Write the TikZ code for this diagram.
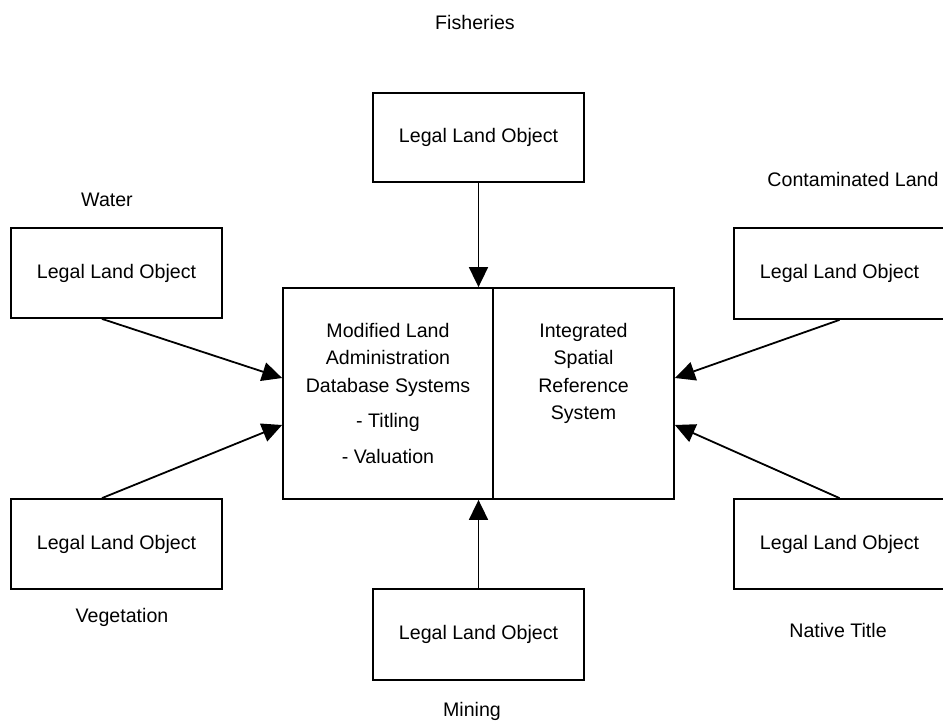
\documentclass[tikz,border=0pt]{standalone}
\usepackage{fontspec}
\setmainfont{Liberation Sans}
\usetikzlibrary{arrows.meta,calc}

\tikzset{
  lbltext/.style={font=\fontsize{19.6}{23.5}\selectfont, inner sep=0pt},
  objbox/.style={draw, line width=1.8pt, minimum width=211pt, minimum height=90pt,
                 inner sep=0pt, font=\fontsize{19.6}{23.5}\selectfont},
  corebox/.style={draw, line width=1.8pt, minimum height=211pt, inner sep=0pt},
  feed/.style={line width=1.8pt, -{Triangle[length=20pt,width=19pt]}},
  blocktext/.style={font=\fontsize{19.6}{27.6}\selectfont, align=center, inner sep=0pt, anchor=north}
}

\begin{document}
\begin{tikzpicture}[x=1pt,y=-1pt]
\useasboundingbox (0,0) rectangle (943,722);

% central database / reference system block
\node[corebox, minimum width=210pt] (mod) at (388,393.5) {};
\node[corebox, minimum width=181pt] (isr) at (583.5,393.5) {};
\node[blocktext] (modtext) at (388,322.7)
  {Modified Land\\Administration\\Database Systems\\[7.5pt]- Titling\\[8.5pt]- Valuation};
\node[blocktext] (isrtext) at (583.5,322.7)
  {Integrated\\Spatial\\Reference\\System};

% surrounding legal land objects
\node[objbox, minimum height=89pt] (top) at (478.5,137.5) {Legal Land Object};
\node[objbox] (lt)  at (116.5,273)   {Legal Land Object};
\node[objbox] (lb)  at (116.5,544)   {Legal Land Object};
\node[objbox, minimum height=91pt] (rt) at (839.5,273.5) {Legal Land Object};
\node[objbox] (rb)  at (839.5,544)   {Legal Land Object};
\node[objbox, minimum height=91pt] (bot) at (478.5,634.5) {Legal Land Object};

% category labels
\node[lbltext, anchor=base] (fish) at (475,30)  {Fisheries};
\node[lbltext, anchor=base] (water) at (107,207) {Water};
\node[lbltext, anchor=base] (cont) at (853,187) {Contaminated Land};
\node[lbltext, anchor=base] (veg) at (122,622) {Vegetation};
\node[lbltext, anchor=base] (nat) at (838,637) {Native Title};
\node[lbltext, anchor=base] (mine) at (472,716) {Mining};

% connectors into the central block
\draw[feed] (top.south) -- (top.south |- mod.north);
\draw[feed] (bot.north) -- (bot.north |- mod.south);
\draw[feed] ($(lt.south)+(-14.5,0)$) -- ($(mod.west)+(0,-15.5)$);
\draw[feed] ($(lb.north)+(-14.5,0)$) -- ($(mod.west)+(0,31.5)$);
\draw[feed] (rt.south) -- ($(isr.east)+(0,-15.5)$);
\draw[feed] (rb.north) -- ($(isr.east)+(0,31.5)$);
\end{tikzpicture}
\end{document}
